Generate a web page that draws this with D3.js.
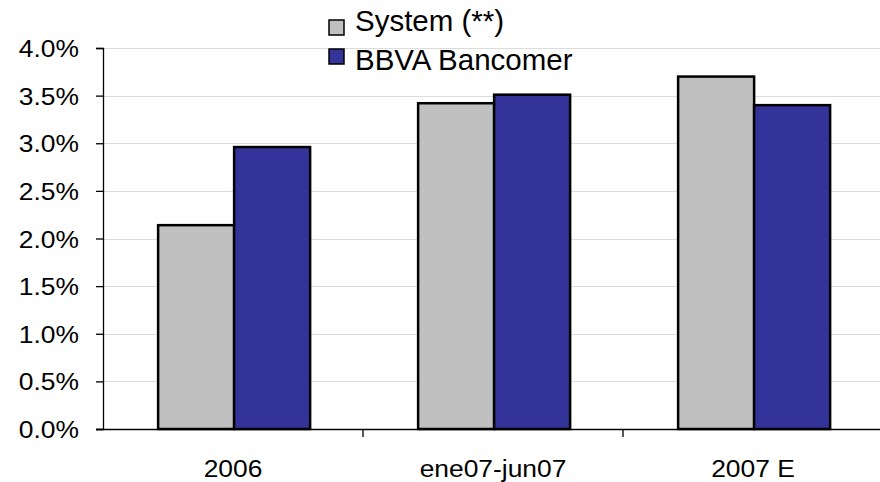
<!DOCTYPE html>
<html><head><meta charset="utf-8">
<script src="https://cdn.jsdelivr.net/npm/d3@7"></script>
<style>body{margin:0;background:#fff}svg{display:block}text{font-family:"Liberation Sans",Arial,sans-serif;fill:#000}</style>
</head><body><svg id="c" width="880" height="482"></svg>
<script>
const categories = ["2006", "ene07-jun07", "2007 E"];
const seriesNames = ["System (**)", "BBVA Bancomer"];
const systemValues = [0.0214, 0.0342, 0.0370];
const bbvaValues = [0.0296, 0.0351, 0.0340];
const yTicks = [0, 0.005, 0.01, 0.015, 0.02, 0.025, 0.03, 0.035, 0.04];
const colors = ["#C0C0C0", "#333399"];

const svg = d3.select("#c");
const y = d3.scaleLinear().domain([0, 0.04]).range([429, 48]);
const x = d3.scaleBand().domain(categories).range([103, 883]).padding(0);
const bw = x.bandwidth();
const x1 = d3.scaleBand().domain(seriesNames).range([bw*0.212, bw*0.212 + 152]).padding(0);

// gridlines
svg.append("g").selectAll("line").data(yTicks.slice(1)).join("line")
  .attr("x1", 103).attr("x2", 880).attr("y1", d => Math.round(y(d))+0.5).attr("y2", d => Math.round(y(d))+0.5)
  .attr("stroke", "#dcdcdc").attr("stroke-width", 1.2);

// bars
const data = categories.map((c, i) => ({c, vals: [systemValues[i], bbvaValues[i]]}));
const g = svg.append("g").selectAll("g").data(data).join("g").attr("transform", d => `translate(${x(d.c)},0)`);
g.selectAll("rect").data(d => d.vals.map((v, j) => ({v, s: seriesNames[j], j}))).join("rect")
  .attr("x", d => x1(d.s)).attr("width", x1.bandwidth())
  .attr("y", d => y(d.v)).attr("height", d => y(0) - y(d.v))
  .attr("fill", d => colors[d.j]).attr("stroke", "#000").attr("stroke-width", 2.5);

// y axis
const yAxis = svg.append("g").attr("transform", "translate(103,0)")
  .call(d3.axisLeft(y).tickValues(yTicks).tickFormat(d3.format(".1%")).tickSize(7).tickPadding(0));
yAxis.select(".domain").attr("stroke", "#000").attr("stroke-width", 1.3);
yAxis.selectAll(".tick line").attr("stroke", "#000").attr("stroke-width", 1.3);
yAxis.selectAll(".tick text").attr("x", null).attr("dy", null).attr("text-anchor", "end")
  .attr("font-size", 24).attr("transform", "translate(-24,8.5) scale(1.1,1)");

// x axis
svg.append("line").attr("x1", 96).attr("x2", 880).attr("y1", 429.5).attr("y2", 429.5).attr("stroke", "#000").attr("stroke-width", 1.3);
svg.append("g").selectAll("line").data(categories.slice(1)).join("line")
  .attr("x1", d => x(d)).attr("x2", d => x(d)).attr("y1", 429).attr("y2", 437).attr("stroke", "#000").attr("stroke-width", 1.3);
svg.append("g").selectAll("text").data(categories).join("text")
  .attr("text-anchor", "middle").attr("font-size", 24)
  .attr("transform", d => `translate(${x(d) + bw/2},477) scale(1.1,1)`).text(d => d);

// legend
const leg = svg.append("g").selectAll("g").data(seriesNames).join("g");
leg.append("rect").attr("x", 329).attr("y", (d, i) => [20, 49][i]).attr("width", 15).attr("height", 15)
  .attr("fill", (d, i) => colors[i]).attr("stroke", "#000").attr("stroke-width", 1.5);
leg.append("text").attr("x", 355).attr("y", (d, i) => [31, 70][i]).attr("font-size", 29.5).text(d => d);
</script></body></html>
